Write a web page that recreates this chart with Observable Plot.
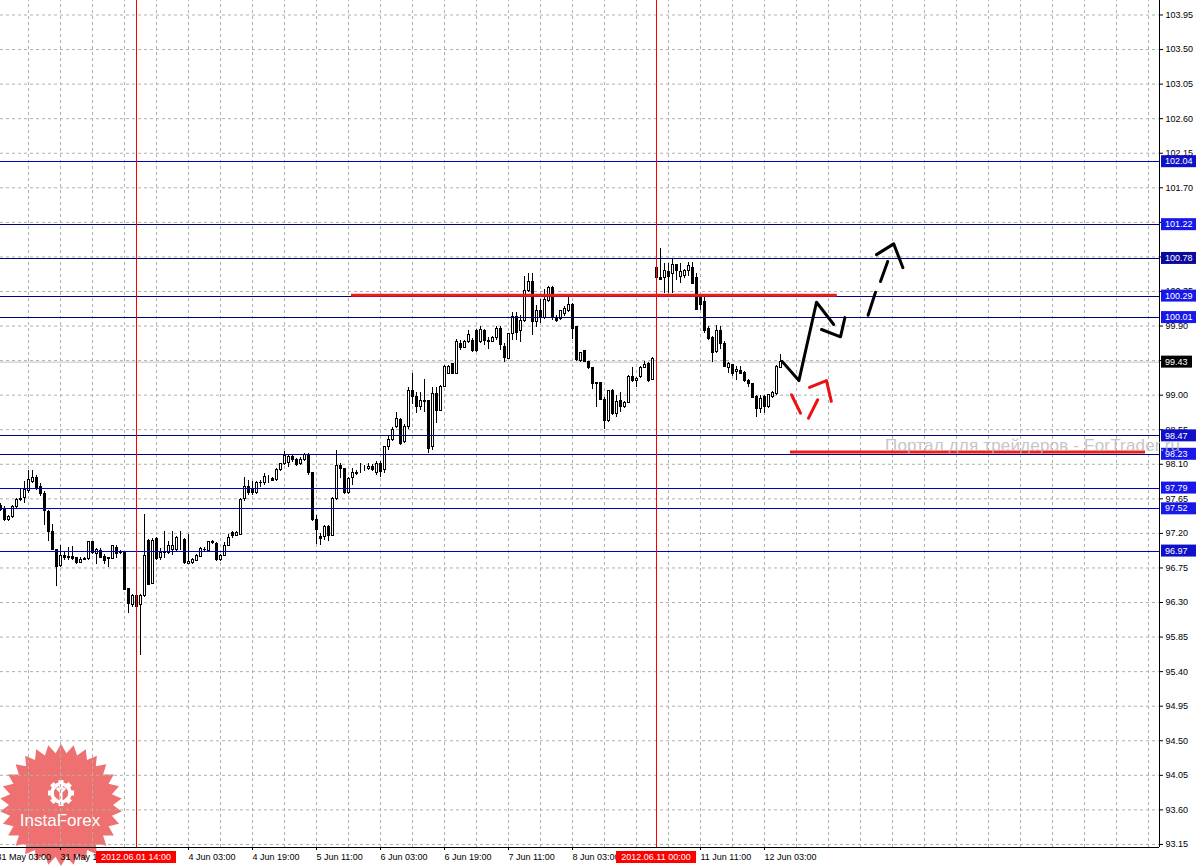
<!DOCTYPE html>
<html><head><meta charset="utf-8">
<script src="https://cdn.jsdelivr.net/npm/d3@7"></script>
<script src="https://cdn.jsdelivr.net/npm/@observablehq/plot@0.6"></script>
<style>
body{margin:0;background:#fff;}
#wrap{position:relative;width:1201px;height:867px;overflow:hidden;}
</style></head><body><div id="wrap"></div>
<script>
// ---- hourly bars (bar 0 = 31 May 04:00) ----
const opens = [97.56,97.52,97.38,97.41,97.54,97.63,97.66,97.75,97.87,97.92,97.80,97.71,97.48,97.22,96.98,96.77,96.90,96.88,96.89,96.88,
96.81,96.85,96.87,97.09,96.93,96.97,96.89,96.87,96.87,97.01,96.95,96.94,96.47,96.27,96.39,96.27,96.39,97.10,96.54,97.13,
96.88,96.95,96.95,96.98,96.98,97.12,97.12,96.80,96.81,96.84,96.89,96.99,96.97,97.09,97.06,96.86,96.91,97.04,97.20,97.17,
97.18,97.65,97.80,97.78,97.72,97.85,97.85,97.93,97.91,97.89,98.02,98.11,98.12,98.19,98.16,98.10,98.16,98.22,97.98,97.38,
97.15,97.15,97.28,97.17,97.65,98.08,98.04,97.72,97.92,97.97,98.04,98.05,98.04,98.07,97.98,98.11,98.02,98.32,98.42,98.58,
98.68,98.39,98.58,99.06,98.98,98.84,98.91,98.92,98.32,99.02,98.80,99.11,99.28,99.40,99.28,99.67,99.62,99.69,99.71,99.84,
99.69,99.84,99.71,99.69,99.75,99.86,99.63,99.47,99.79,100.02,99.84,99.96,100.35,100.47,99.95,100.10,100.01,100.23,100.40,100.01,
99.99,100.06,100.10,100.18,99.89,99.45,99.58,99.43,99.36,99.16,99.16,98.94,98.66,99.05,98.76,98.92,98.85,98.90,99.24,99.19,
99.23,99.36,99.41,99.20,100.65,100.53,100.53,100.61,100.58,100.69,100.54,100.55,100.62,100.65,100.53,100.28,100.21,99.86,99.75,99.56,
99.84,99.67,99.36,99.39,99.30,99.32,99.29,99.19,99.15,98.97,98.82,98.98,98.84,98.97,99.01,99.36];
const highs = [97.59,97.55,97.43,97.56,97.65,97.77,97.87,98.02,98.02,97.95,97.85,97.74,97.50,97.32,96.99,97.04,96.95,97.02,97.03,96.89,
96.89,96.89,97.10,97.10,97.00,97.00,96.93,96.89,97.04,97.04,96.98,96.94,96.48,96.41,96.41,96.41,97.45,97.12,97.13,97.15,
97.00,97.22,97.09,97.23,97.16,97.22,97.13,97.18,96.87,96.93,97.02,97.01,97.10,97.11,97.08,96.93,97.08,97.19,97.22,97.22,
97.65,97.93,97.89,97.87,97.88,97.89,97.98,97.95,97.93,98.04,98.11,98.26,98.22,98.22,98.18,98.19,98.24,98.24,97.99,97.43,
97.20,97.30,97.30,97.67,98.28,98.11,98.05,97.93,98.04,98.02,98.11,98.09,98.11,98.10,98.13,98.13,98.33,98.47,98.58,98.78,
98.70,98.62,99.10,99.28,99.03,99.03,99.21,98.93,99.10,99.10,99.12,99.38,99.38,99.41,99.72,99.71,99.71,99.84,99.74,99.85,
99.89,99.86,99.75,99.77,99.89,99.89,99.67,99.80,100.07,100.07,100.04,100.55,100.59,100.58,100.17,100.24,100.38,100.41,100.42,100.04,
100.10,100.15,100.27,100.19,99.90,99.56,99.58,99.43,99.36,99.16,99.17,98.97,99.06,99.08,99.00,99.04,98.92,99.26,99.36,99.23,
99.37,99.44,99.43,99.49,100.66,100.91,100.71,100.71,100.76,100.70,100.71,100.64,100.73,100.73,100.58,100.30,100.30,99.89,99.76,99.91,
99.90,99.70,99.43,99.40,99.37,99.37,99.31,99.20,99.15,98.99,99.00,99.00,99.01,99.05,99.38,99.53];
const lows = [97.48,97.36,97.36,97.40,97.53,97.61,97.59,97.72,97.85,97.76,97.68,97.30,97.09,96.98,96.51,96.76,96.85,96.85,96.85,96.80,
96.81,96.85,96.85,96.92,96.80,96.87,96.80,96.76,96.86,96.87,96.93,96.45,96.16,96.24,96.22,95.61,96.37,96.52,96.53,96.85,
96.85,96.87,96.93,96.91,96.96,96.98,96.80,96.79,96.80,96.83,96.88,96.95,96.96,97.06,96.84,96.84,96.90,97.03,97.14,97.16,
97.17,97.62,97.69,97.69,97.70,97.80,97.82,97.85,97.87,97.88,98.01,98.08,98.06,98.12,98.07,98.09,98.14,97.95,97.36,97.06,
97.04,97.11,97.09,97.16,97.63,97.91,97.71,97.70,97.82,97.95,97.98,98.00,98.02,98.00,97.95,97.93,97.98,98.28,98.40,98.56,
98.35,98.37,98.55,98.88,98.76,98.80,98.78,98.24,98.28,98.63,98.79,99.10,99.27,99.27,99.27,99.58,99.61,99.67,99.55,99.55,
99.67,99.65,99.59,99.68,99.71,99.58,99.42,99.46,99.71,99.71,99.69,99.95,100.34,99.78,99.88,99.93,99.99,100.20,99.97,99.95,
99.97,100.02,100.08,99.73,99.44,99.43,99.43,99.34,99.08,98.84,98.93,98.55,98.65,98.74,98.71,98.78,98.83,98.89,99.17,99.10,
99.22,99.35,99.17,99.19,100.52,100.49,100.33,100.33,100.33,100.49,100.45,100.52,100.54,100.45,100.10,100.10,99.80,99.71,99.42,99.54,
99.60,99.36,99.28,99.24,99.19,99.28,99.17,99.10,98.95,98.71,98.76,98.76,98.83,98.96,99.00,99.35];
const closes = [97.50,97.38,97.41,97.54,97.63,97.65,97.76,97.89,97.92,97.78,97.71,97.49,97.22,96.98,96.76,96.90,96.88,96.89,96.87,96.81,
96.85,96.87,97.09,96.94,96.98,96.88,96.84,96.88,97.03,96.93,96.94,96.46,96.28,96.38,96.24,96.38,96.91,96.53,97.10,96.87,
96.94,96.96,97.03,97.04,97.14,97.12,96.81,96.83,96.85,96.90,97.00,96.98,97.09,97.08,96.85,96.91,97.04,97.14,97.16,97.20,
97.64,97.80,97.72,97.72,97.85,97.86,97.94,97.93,97.88,98.02,98.11,98.21,98.19,98.16,98.09,98.16,98.22,97.98,97.37,97.24,
97.13,97.28,97.17,97.65,98.08,98.04,97.72,97.91,97.98,97.98,98.04,98.05,98.07,98.02,98.11,98.00,98.32,98.42,98.54,98.69,
98.37,98.58,99.06,98.98,98.84,98.92,98.93,98.30,99.02,98.80,99.11,99.37,99.37,99.28,99.69,99.62,99.69,99.78,99.57,99.58,
99.85,99.70,99.69,99.75,99.86,99.65,99.49,99.79,100.02,99.81,99.96,100.35,100.47,99.95,100.10,100.01,100.24,100.40,100.01,99.97,
100.09,100.12,100.17,99.86,99.46,99.55,99.43,99.36,99.15,99.14,98.94,98.67,99.05,98.76,98.91,98.84,98.90,99.24,99.19,99.21,
99.35,99.39,99.19,99.47,100.53,100.50,100.62,100.54,100.70,100.62,100.60,100.62,100.68,100.45,100.11,100.18,99.84,99.73,99.55,99.84,
99.67,99.37,99.41,99.28,99.33,99.28,99.18,99.15,98.96,98.82,98.95,98.84,99.00,99.03,99.37,99.43];

// ---- axes (labels hidden behind the red event boxes are left out) ----
const xTickBars   = [-1, 15, 47, 63, 79, 95, 111, 127, 143, 175, 191];
const xTickLabels = ["31 May 03:00","31 May 19:00","4 Jun 03:00","4 Jun 19:00","5 Jun 11:00","6 Jun 03:00",
                     "6 Jun 19:00","7 Jun 11:00","8 Jun 03:00","11 Jun 11:00","12 Jun 03:00"];
const yTickVals = [93.15,93.60,94.05,94.50,94.95,95.40,95.85,96.30,96.75,97.20,97.65,98.10,98.55,99.00,99.45,99.90,
                   100.35,100.80,101.25,101.70,102.15,102.60,103.05,103.50,103.95];
const yLabelVals = [93.15,93.60,94.05,94.50,94.95,95.40,95.85,96.30,96.75,97.20,97.65,98.10,98.55,99.00,99.90,
                    100.35,101.70,102.15,102.60,103.05,103.50,103.95];
const gridBars = d3.range(7, 290, 8);

// ---- horizontal levels ----
const navyLevels = [101.22, 100.78, 100.29, 100.01, 98.47, 98.23];
const blueLevels = [102.04, 97.79, 97.52, 96.97];
const levelLabels = [102.04, 101.22, 100.78, 100.29, 100.01, 98.47, 98.23, 97.79, 97.52, 96.97];
const labelColors = ["#1010C8","#1818E8","#0A0A9C","#1818E8","#1818E8","#1010C8","#1818E8","#1818E8","#1818E8","#1010C8"];
const bidPrice = 99.43;

// ---- vertical event lines ----
const eventBars = [34, 164];
const eventLabels = ["2012.06.01 14:00", "2012.06.11 00:00"];

// ---- thick red support / resistance segments ----
const redLevels = [100.30, 98.26];
const redFrom   = [87.75, 197.5];
const redTo     = [209.2, 286.25];

// ---- forecast drawing (bar index, price) ----
const solidBlack = [
  {g:1, i:195.4, p:99.44},{g:1, i:199.6, p:99.19},{g:1, i:204.0, p:100.21},{g:1, i:208.3, p:99.92},
  {g:2, i:205.25, p:99.855},{g:2, i:210.0, p:99.76},{g:2, i:211.1, p:100.01}
];
const dashedBlack = [
  {g:1, i:216.9, p:100.04},{g:1, i:218.75, p:100.34},
  {g:2, i:220.0, p:100.48},{g:2, i:221.8, p:100.74},
  {g:3, i:219.0, p:100.83},{g:3, i:223.3, p:100.97},{g:3, i:225.6, p:100.66}
];
const redPath = [
  {g:1, i:197.75, p:99.005},{g:1, i:200.0, p:98.765},
  {g:2, i:202.0, p:98.70},{g:2, i:204.3, p:98.94},
  {g:3, i:202.25, p:99.10},{g:3, i:206.5, p:99.19},{g:3, i:207.7, p:98.92}
];

// ---------------------------------------------------------------
const bars = opens.map((o, i) => ({i, o, h: highs[i], l: lows[i], c: closes[i]}));
const bulls = bars.filter(d => d.c >= d.o);
const bears = bars.filter(d => d.c < d.o);
const reds = redLevels.map((v, k) => ({v, x1: redFrom[k], x2: redTo[k]}));
const gridColor = "#a9b3a9";
const fontFam = "'Liberation Sans', Arial, sans-serif";

const chart = Plot.plot({
  width: 1201, height: 867,
  marginLeft: 0, marginRight: 42, marginTop: 0, marginBottom: 20,
  x: {domain: [0, 289.75], axis: null},
  y: {domain: [93.1101, 104.1388], axis: null},
  style: {fontFamily: fontFam, fontSize: "9px", background: "#fff", color: "#000", overflow: "visible"},
  marks: [
    Plot.ruleX(gridBars, {stroke: gridColor, strokeDasharray: "3,3", y1: 93.1101, y2: 104.1388}),
    Plot.ruleY(yTickVals, {stroke: gridColor, strokeDasharray: "3,3"}),
    Plot.ruleY([bidPrice], {stroke: "#c4c4c4"}),
    Plot.ruleX(bars, {x: "i", y1: "l", y2: "h", stroke: "#000", shapeRendering: "crispEdges"}),
    Plot.rect(bulls, {x1: d => d.i - 0.25, x2: d => d.i + 0.25, y1: "o", y2: "c", fill: "#fff", stroke: "#000", shapeRendering: "crispEdges"}),
    Plot.rect(bears, {x1: d => d.i - 0.25, x2: d => d.i + 0.25, y1: "o", y2: "c", fill: "#000", stroke: "#000", shapeRendering: "crispEdges"}),
    Plot.ruleY(navyLevels, {stroke: "#00007A", shapeRendering: "crispEdges"}),
    Plot.ruleY(blueLevels, {stroke: "#0000C8", shapeRendering: "crispEdges"}),
    Plot.ruleX(eventBars, {stroke: "#ff0000", shapeRendering: "crispEdges"}),
    Plot.ruleY(reds, {y: "v", x1: "x1", x2: "x2", stroke: "#ee1c1c", strokeWidth: 3}),
    Plot.line(redPath, {x: "i", y: "p", z: "g", stroke: "#ee1111", strokeWidth: 3}),
    Plot.line(solidBlack, {x: "i", y: "p", z: "g", stroke: "#000", strokeWidth: 3}),
    Plot.line(dashedBlack, {x: "i", y: "p", z: "g", stroke: "#000", strokeWidth: 3}),
    Plot.ruleX([289.75], {stroke: "#000"}),
    Plot.ruleY([93.1101], {stroke: "#000"}),
    Plot.axisY({anchor: "right", ticks: yTickVals, tickFormat: d => yLabelVals.includes(d) ? d.toFixed(2) : "", tickSize: 3, tickPadding: 3, textAnchor: "start", fontSize: 9}),
    Plot.axisX({anchor: "bottom", ticks: xTickBars, tickFormat: d => xTickLabels[xTickBars.indexOf(d)], tickSize: 3, tickPadding: 3, textAnchor: "start", dx: 0, fontSize: 9})
  ]
});
document.getElementById("wrap").appendChild(chart);

const svg = d3.select(chart);
const xs = chart.scale("x"), ys = chart.scale("y");

// InstaForex badge under the marks
const under = svg.insert("g", "g");
const cx = 61, cy = 805, n = 30, R1 = 61, R2 = 52;
const star = d3.range(n * 2).map(k => {
  const r = k % 2 ? R2 : R1, a = Math.PI * k / n - Math.PI / 2;
  return [cx + r * Math.cos(a), cy + r * Math.sin(a)];
});
under.append("path").attr("d", "M" + star.join("L") + "Z").attr("fill", "#ea4c4c").attr("opacity", 0.8);
const gear = under.append("g").attr("transform", `translate(${cx},${cy - 12})`);
d3.range(8).forEach(k => gear.append("rect").attr("x", -2.5).attr("y", -13).attr("width", 5).attr("height", 6)
  .attr("fill", "#fff").attr("transform", `rotate(${k * 45})`));
gear.append("circle").attr("r", 9).attr("fill", "none").attr("stroke", "#fff").attr("stroke-width", 3.5);
gear.append("path").attr("d", "M-4,-5 L0,-1 L4,-5 M0,-1 L0,8").attr("stroke", "#fff").attr("stroke-width", 3).attr("fill", "none");
gear.append("circle").attr("cx", 0).attr("cy", -6).attr("r", 2).attr("fill", "#fff");
under.append("text").attr("x", cx - 1).attr("y", cy + 21).attr("text-anchor", "middle").attr("font-family", fontFam)
  .attr("font-size", 17).attr("fill", "#fff").text("InstaForex");

// price labels on the right axis
const overlay = svg.append("g").attr("font-family", fontFam).attr("font-size", 9).attr("text-anchor", "start");
levelLabels.forEach((v, k) => {
  const y = ys.apply(v);
  overlay.append("rect").attr("x", 1161).attr("y", y - 6).attr("width", 35).attr("height", 12).attr("fill", labelColors[k]);
  overlay.append("text").attr("x", 1165).attr("y", y).attr("dy", "0.35em").attr("fill", "#fff").text(v.toFixed(2));
});
{
  const y = ys.apply(bidPrice);
  overlay.append("rect").attr("x", 1161).attr("y", y - 6).attr("width", 31).attr("height", 12).attr("fill", "#000");
  overlay.append("text").attr("x", 1165).attr("y", y).attr("dy", "0.35em").attr("fill", "#fff").text(bidPrice.toFixed(2));
}
eventBars.forEach((b, k) => {
  const x = xs.apply(b);
  overlay.append("rect").attr("x", x - 40).attr("y", 851).attr("width", 80).attr("height", 12).attr("fill", "#ff0000");
  overlay.append("text").attr("x", x).attr("y", 857).attr("dy", "0.35em").attr("text-anchor", "middle")
    .attr("fill", "#fff").text(eventLabels[k]);
});
// ForTrader watermark on top (semi-transparent)
svg.append("text").attr("x", 885).attr("y", 451).attr("text-anchor", "start").attr("font-family", fontFam).attr("font-size", 17)
  .attr("fill", "#b8b8b8").attr("opacity", 0.8).attr("textLength", 295).attr("lengthAdjust", "spacing")
  .text("Портал для трейдеров - ForTrader.ru");
</script>
</body></html>
